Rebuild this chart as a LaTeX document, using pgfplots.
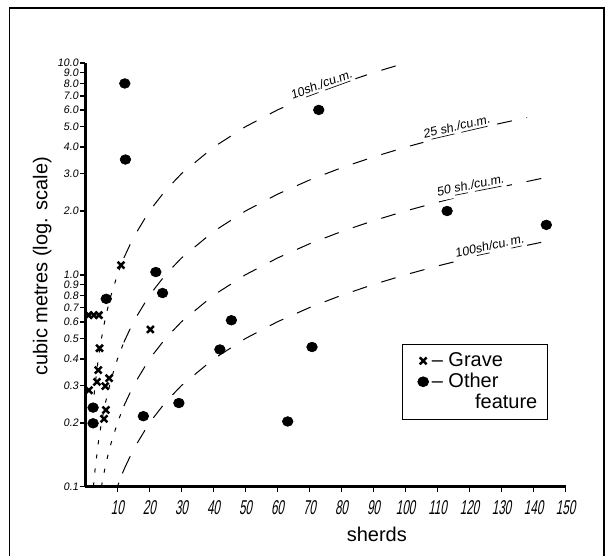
\documentclass[border=0pt]{standalone}
\usepackage{fontspec}
\setmainfont{Liberation Sans}
\newfontfamily\tickfont[FakeStretch=0.58,FakeSlant=0.18]{Liberation Sans}
\newfontfamily\slfont[FakeSlant=0.15]{Liberation Sans}
\usepackage{pgfplots}
\pgfplotsset{compat=1.18}

% graves
\pgfplotstableread{
x y
11.1 1.11
20.3 0.552
1.0 0.645
2.6 0.645
4.2 0.645
4.4 0.45
4.0 0.355
3.6 0.312
7.4 0.325
6.2 0.298
1.1 0.285
6.4 0.230
5.8 0.209
}\graves
% other features
\pgfplotstableread{
x y
12.3 8.0
12.5 3.5
72.9 6.0
113 2.0
144 1.72
22.0 1.03
24.1 0.82
6.5 0.77
45.6 0.61
42.0 0.444
70.8 0.456
29.2 0.248
18.1 0.215
63.2 0.203
2.4 0.236
2.4 0.199
}\others

\begin{document}
\begin{tikzpicture}
\path[use as bounding box] (-51.3pt,-41.6pt) rectangle (312.6pt,292.2pt);
\draw[line width=1pt] (-45.5pt,-41.6pt) -- (-45.5pt,287.5pt) -- (311.2pt,287.5pt) -- (311.2pt,-41.6pt);
\begin{axis}[
  scale only axis, width=288.3pt, height=254.4pt,
  ymode=log, xmin=0, xmax=150, ymin=0.1, ymax=10,
  axis x line*=bottom, axis y line*=left,
  x axis line style={line width=2pt,-},
  y axis line style={line width=2pt,-},
  tick align=outside, major tick length=3pt,
  tick style={line width=0.9pt,black},
  xtick={10,20,30,40,50,60,70,80,90,100,110,120,130,140,150},
  xticklabels={10,20,30,40,50,60,70,80,90,100,110,120,130,140,150},
  ytick={0.1,0.2,0.3,0.4,0.5,0.6,0.7,0.8,0.9,1,2,3,4,5,6,7,8,9,10},
  yticklabels={0.1,0.2,0.3,0.4,0.5,0.6,0.7,0.8,0.9,1.0,2.0,3.0,4.0,5.0,6.0,7.0,8.0,9.0,10.0},
  minor ytick={},
  x tick label style={font=\tickfont\fontsize{12}{12}\selectfont, yshift=-2pt},
  y tick label style={font=\slfont\fontsize{6.5}{7}\selectfont, inner sep=1pt},
  xlabel={sherds}, ylabel={cubic metres (log. scale)},
  label style={font=\fontsize{12}{13}\selectfont},
  xlabel style={at={(axis description cs:0.607,0)}, anchor=center, yshift=-28.8pt},
  ylabel style={at={(axis description cs:-0.09,0.52)}, anchor=center},
  clip=false,
  legend style={at={(axis description cs:0.659,0.337)}, anchor=north west,
    draw=black, line width=0.6pt, font=\fontsize{12}{13}\selectfont,
    cells={anchor=west}, inner xsep=4pt, inner ysep=3pt, row sep=-1.5pt},
  lower/.style={black, line width=0.6pt, dash pattern=on 2.5pt off 6pt, forget plot},
  upper/.style={black, line width=0.6pt, dash pattern=on 9pt off 9pt, forget plot},
]
% 10 sh./cu.m.
\addplot[lower] coordinates {(2,0.2) (2.5,0.25) (3,0.3) (4,0.4) (5,0.5) (6,0.6) (7,0.7) (8,0.8) (10,1.0) (12,1.2)};
\addplot[upper] coordinates {(12,1.2) (15,1.5) (20,2.0) (25,2.5) (30,3.0) (40,4.0) (50,5.0) (60,6.0) (70,7.0) (80,8.0) (90,9.0) (100,10.0)};
% 25 sh./cu.m.
\addplot[lower] coordinates {(2.5,0.1) (3,0.12) (4,0.16) (5,0.2) (6,0.24) (8,0.32) (10,0.4) (12,0.48)};
\addplot[upper] coordinates {(12,0.48) (15,0.6) (20,0.8) (25,1.0) (30,1.2) (40,1.6) (50,2.0) (60,2.4) (70,2.8) (80,3.2) (90,3.6) (100,4.0) (110,4.4) (120,4.8) (130,5.2) (138,5.52)};
% 50 sh./cu.m.
\addplot[lower] coordinates {(5,0.1) (6,0.12) (7,0.14) (8,0.16) (10,0.2) (12,0.24)};
\addplot[upper] coordinates {(12,0.24) (15,0.3) (20,0.4) (25,0.5) (30,0.6) (40,0.8) (50,1.0) (60,1.2) (70,1.4) (80,1.6) (90,1.8) (100,2.0) (110,2.2) (120,2.4) (130,2.6) (143,2.86)};
% 100 sh./cu.m.
\addplot[lower] coordinates {(10,0.1) (11,0.11) (12,0.12)};
\addplot[upper] coordinates {(12,0.12) (15,0.15) (20,0.2) (25,0.25) (30,0.3) (40,0.4) (50,0.5) (60,0.6) (70,0.7) (80,0.8) (90,0.9) (100,1.0) (110,1.1) (120,1.2) (130,1.3) (146,1.46)};

\addplot[only marks, mark=x, mark size=2.9pt, line width=1.5pt, black] table[x=x,y=y] {\graves};
\addlegendentry{-- Grave}
\addplot[only marks, mark=*, mark size=2.9pt, black, mark options={xscale=1.1}] table[x=x,y=y] {\others};
\addlegendentry{-- Other}
\addlegendimage{empty legend}
\addlegendentry{\hspace*{26pt}feature}

\begin{scope}[every node/.style={font=\slfont\fontsize{7.5}{8}\selectfont, fill=white, inner sep=1pt}]
\node[rotate=20] at (axis cs:73.8,7.8) {10\underline{sh}./\underline{cu.m}.};
\node[rotate=13] at (axis cs:116,4.93) {2\underline{5 sh}./\underline{cu.m}.};
\node[rotate=11] at (axis cs:120.3,2.6) {50 \underline{sh}./\underline{cu.m}.};
\node[rotate=12] at (axis cs:126.3,1.345) {100\underline{sh}/cu.\,\underline{m}.};
\end{scope}
\end{axis}
\end{tikzpicture}
\end{document}
